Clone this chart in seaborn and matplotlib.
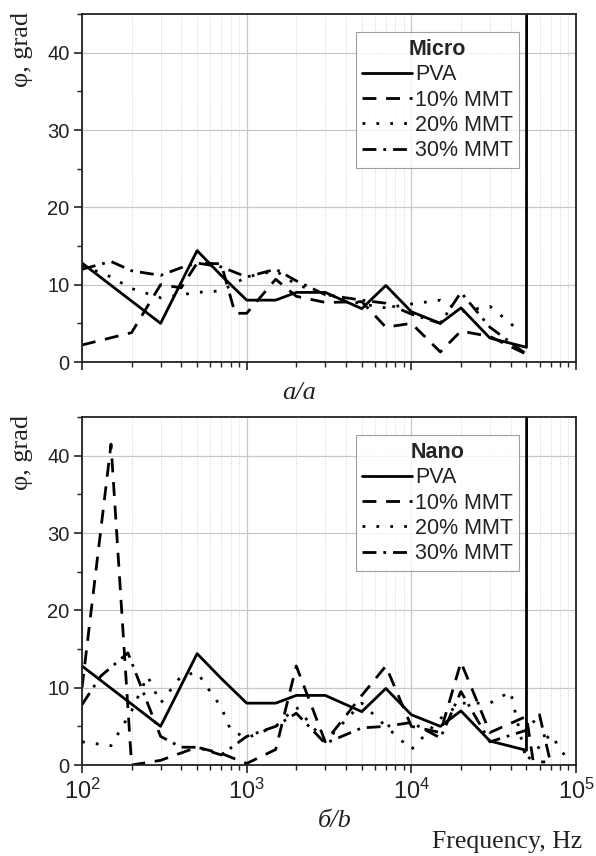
import numpy as np
import pandas as pd
import matplotlib
matplotlib.use("Agg")
import matplotlib.pyplot as plt
import seaborn as sns
from matplotlib.ticker import LogLocator, NullFormatter, MultipleLocator

# ---- data ----
pva_f = [100, 300, 500, 700, 1000, 1500, 2000, 3000, 5000, 7000, 10000, 15000, 20000, 30000, 50000, 50500]
pva_phi = [12.8, 5.0, 14.4, 11.2, 8.0, 8.0, 9.0, 9.0, 6.9, 9.9, 6.5, 5.0, 7.0, 3.1, 1.9, 200]

# Micro
micro10_f = [100, 200, 300, 400, 500, 700, 850, 1000, 1500, 2000, 3000, 5000, 7000, 10000, 15000, 20000, 30000, 50000]
micro10_phi = [2.2, 3.8, 10.0, 9.6, 12.8, 12.7, 6.3, 6.3, 10.7, 8.5, 7.7, 7.8, 4.5, 5.0, 1.3, 4.0, 3.3, 1.0]
micro20_f = [100, 150, 200, 300, 500, 700, 1000, 1500, 2000, 3000, 5000, 7000, 10000, 15000, 20000, 30000, 40000, 45000]
micro20_phi = [12.5, 11.0, 9.5, 8.3, 9.0, 9.2, 11.0, 11.8, 10.0, 8.8, 7.5, 7.0, 7.5, 8.0, 6.5, 7.2, 5.0, 4.0]
micro30_f = [100, 150, 200, 300, 400, 500, 700, 1000, 1500, 2000, 3000, 5000, 7000, 10000, 15000, 20000, 30000, 50000]
micro30_phi = [12.0, 13.0, 11.8, 11.2, 12.2, 12.8, 12.3, 11.0, 12.0, 10.5, 8.7, 8.0, 7.6, 6.2, 5.0, 9.0, 4.5, 1.0]

# Nano
nano10_f = [100, 150, 200, 300, 500, 700, 1000, 1500, 2000, 3000, 5000, 7000, 10000, 15000, 20000, 30000, 50000, 55000, 65000]
nano10_phi = [10.0, 41.5, 0.0, 0.6, 2.3, 1.5, 0.2, 2.0, 12.8, 3.0, 9.0, 12.8, 5.0, 4.2, 13.3, 4.2, 6.3, 0.4, 0.4]
nano20_f = [100, 150, 200, 250, 300, 400, 500, 600, 700, 800, 1000, 1500, 2000, 3000, 5000, 7000, 10000, 15000, 20000, 30000, 40000, 50000, 70000, 90000]
nano20_phi = [3.0, 2.5, 7.0, 11.5, 8.0, 11.5, 12.0, 9.5, 7.5, 4.5, 3.5, 5.0, 7.5, 3.0, 8.0, 5.0, 2.0, 6.0, 8.0, 8.0, 9.5, 0.5, 4.0, 0.5]
nano30_f = [100, 130, 190, 250, 300, 400, 500, 700, 1000, 1500, 2000, 3000, 5000, 7000, 10000, 15000, 20000, 30000, 50000, 60000, 70000]
nano30_phi = [7.8, 11.5, 14.5, 8.0, 3.7, 2.3, 2.3, 1.3, 3.7, 5.0, 6.7, 2.8, 4.8, 5.0, 5.5, 3.5, 9.5, 3.0, 4.5, 6.5, 0.3]

labels = ["PVA", "10% MMT", "20% MMT", "30% MMT"]
styles = ["-", (0, (5, 3.5)), (0, (1, 4)), (0, (5, 2.5, 1, 2.5))]

panels = [
    ("Micro", [(pva_f, pva_phi), (micro10_f, micro10_phi), (micro20_f, micro20_phi), (micro30_f, micro30_phi)]),
    ("Nano", [(pva_f, pva_phi), (nano10_f, nano10_phi), (nano20_f, nano20_phi), (nano30_f, nano30_phi)]),
]

sns.set_theme(style="white")
plt.rcParams["font.family"] = ["Liberation Sans", "DejaVu Sans"]
plt.rcParams["mathtext.fontset"] = "custom"
plt.rcParams["mathtext.rm"] = "Liberation Sans"

fig = plt.figure(figsize=(5.96, 8.56), dpi=100)
ax_top = fig.add_axes([0.1376, 0.5771, 0.8289, 0.4065])
ax_bot = fig.add_axes([0.1376, 0.1063, 0.8289, 0.4065])

serif = ["Liberation Serif", "DejaVu Serif"]

for ax, (title, series) in zip([ax_top, ax_bot], panels):
    for (f, phi), lab, ls in zip(series, labels, styles):
        sns.lineplot(x=f, y=phi, ax=ax, color="black", linewidth=2.0,
                     linestyle=ls, label=lab, sort=False, estimator=None)
    ax.set_xscale("log")
    ax.set_xlim(100, 1e5)
    ax.set_ylim(0, 45)
    ax.yaxis.set_major_locator(MultipleLocator(10))
    ax.yaxis.set_minor_locator(MultipleLocator(5))
    ax.xaxis.set_minor_locator(LogLocator(base=10, subs=np.arange(2, 10)))
    ax.xaxis.set_minor_formatter(NullFormatter())
    ax.grid(which="major", color="#c8c8c8", linewidth=0.9, linestyle="-")
    ax.grid(which="minor", axis="x", color="#d0d0d0", linewidth=0.7, linestyle=":")
    ax.set_axisbelow(True)
    for sp in ax.spines.values():
        sp.set_color("#222222")
        sp.set_linewidth(1.3)
    ax.tick_params(which="major", direction="out", length=6, width=1.2,
                   color="#222222", labelsize=14.5, labelcolor="#222222",
                   bottom=True, left=True, top=False, right=False, pad=3)
    ax.tick_params(axis="x", which="major", labelsize=17, pad=4)
    ax.tick_params(which="minor", direction="out", length=3.5, width=1.0,
                   color="#222222", bottom=True, left=True, top=False, right=False)
    ax.set_xlabel("")
    ax.set_ylabel("")
    ax.text(-0.121, 1.005, "φ, grad", transform=ax.transAxes, rotation=90,
            ha="center", va="top", fontsize=19, family=serif, color="#222222")
    leg = ax.legend(title=title, loc="upper right", bbox_to_anchor=(0.885, 0.947),
                    fontsize=15.5, title_fontsize=15.5, handlelength=2.3,
                    handletextpad=0.15, borderpad=0.3, labelspacing=0.2,
                    borderaxespad=0, frameon=True, fancybox=False)
    leg.get_title().set_fontweight("bold")
    leg.get_frame().set_edgecolor("#888888")
    leg.get_frame().set_linewidth(0.8)
    for t in leg.get_texts():
        t.set_color("#222222")

ax_top.tick_params(labelbottom=False)
ax_top.text(0.44, -0.09, "a/a", transform=ax_top.transAxes, ha="center", va="center",
            fontsize=19, family=serif, style="italic", color="#222222")
ax_bot.text(0.512, -0.16, "б/b", transform=ax_bot.transAxes, ha="center", va="center",
            fontsize=19, family=serif, style="italic", color="#222222")
fig.text(0.977, 0.004, "Frequency, Hz", ha="right", va="bottom", fontsize=18.5,
         family=serif, color="#222222")

fig.savefig("out.png", dpi=100, facecolor="white")
